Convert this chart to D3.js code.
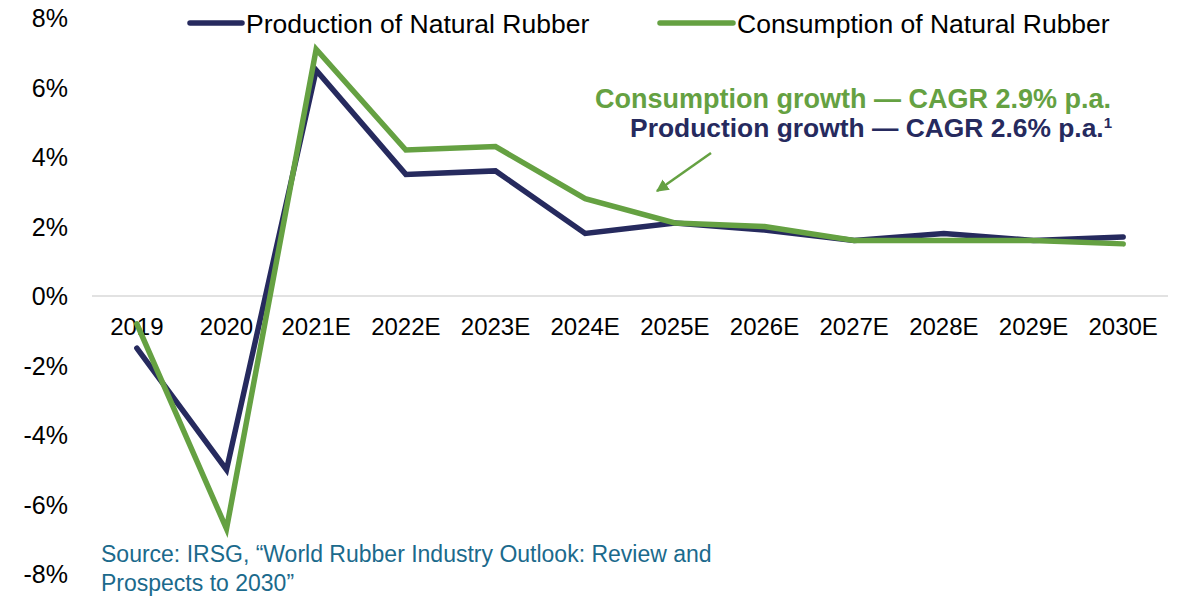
<!DOCTYPE html>
<html>
<head>
<meta charset="utf-8">
<script src="https://cdn.jsdelivr.net/npm/d3@7"></script>
<style>
  body { margin: 0; background: #fff; }
  svg { font-family: "Liberation Sans", Arial, sans-serif; }
</style>
</head>
<body>
<svg id="chart" width="1184" height="596"></svg>
<script>
// data
const years = ['2019', '2020', '2021E', '2022E', '2023E', '2024E', '2025E', '2026E', '2027E', '2028E', '2029E', '2030E'];
const production = [-1.5, -5.0, 6.5, 3.5, 3.6, 1.8, 2.1, 1.9, 1.6, 1.8, 1.6, 1.7];
const consumption = [-0.8, -6.7, 7.1, 4.2, 4.3, 2.8, 2.1, 2.0, 1.6, 1.6, 1.6, 1.5];
const yTicks = [8, 6, 4, 2, 0, -2, -4, -6, -8];

const navy = '#262a5e';
const green = '#65a142';

const svg = d3.select('#chart');

const x = d3.scalePoint().domain(years).range([92, 1168]).padding(0.5);
const y = d3.scaleLinear().domain([-8, 8]).range([574, 18]);

// zero line
svg.append('line')
  .attr('x1', 92).attr('x2', 1168)
  .attr('y1', y(0)).attr('y2', y(0))
  .attr('stroke', '#d9d9d9').attr('stroke-width', 1.5);

// y tick labels
svg.append('g').selectAll('text')
  .data(yTicks)
  .enter().append('text')
  .attr('x', 68)
  .attr('y', d => y(d))
  .attr('dy', '0.36em')
  .attr('text-anchor', 'end')
  .attr('font-size', 25)
  .attr('fill', '#000')
  .text(d => d + '%');

// x tick labels
svg.append('g').selectAll('text')
  .data(years)
  .enter().append('text')
  .attr('x', d => x(d))
  .attr('y', y(0) + 30)
  .attr('dy', '0.36em')
  .attr('text-anchor', 'middle')
  .attr('font-size', 24)
  .attr('fill', '#000')
  .text(d => d);

// lines
const line = d3.line()
  .x((d, i) => x(years[i]))
  .y(d => y(d));

svg.append('path')
  .datum(production)
  .attr('d', line)
  .attr('fill', 'none')
  .attr('stroke', navy)
  .attr('stroke-width', 5.5)
  .attr('stroke-linecap', 'round')
  .attr('stroke-linejoin', 'miter');

svg.append('path')
  .datum(consumption)
  .attr('d', line)
  .attr('fill', 'none')
  .attr('stroke', green)
  .attr('stroke-width', 5.5)
  .attr('stroke-linecap', 'round')
  .attr('stroke-linejoin', 'miter');

// legend
const legend = [
  {label: 'Production of Natural Rubber', color: navy, x1: 190, x2: 242},
  {label: 'Consumption of Natural Rubber', color: green, x1: 660, x2: 733}
];
const lg = svg.append('g').selectAll('g').data(legend).enter().append('g');
lg.append('line')
  .attr('x1', d => d.x1).attr('x2', d => d.x2)
  .attr('y1', 23).attr('y2', 23)
  .attr('stroke', d => d.color)
  .attr('stroke-width', 5.5)
  .attr('stroke-linecap', 'round');
lg.append('text')
  .attr('x', d => d.x2 + 4)
  .attr('y', 23)
  .attr('dy', '0.36em')
  .attr('font-size', 26.5)
  .attr('fill', '#000')
  .text(d => d.label);

// CAGR annotation
svg.append('text')
  .attr('x', 1111).attr('y', 98)
  .attr('dy', '0.36em')
  .attr('text-anchor', 'end')
  .attr('font-size', 27).attr('font-weight', 'bold')
  .attr('fill', green)
  .text('Consumption growth — CAGR 2.9% p.a.');

const prodText = svg.append('text')
  .attr('x', 1112).attr('y', 127)
  .attr('dy', '0.36em')
  .attr('text-anchor', 'end')
  .attr('font-size', 26.4).attr('font-weight', 'bold')
  .attr('fill', navy);
prodText.append('tspan').text('Production growth — CAGR 2.6% p.a.');
prodText.append('tspan')
  .attr('font-size', 15).attr('dy', -9)
  .text('1');

// arrow
svg.append('defs').append('marker')
  .attr('id', 'arrow')
  .attr('viewBox', '0 0 10 10')
  .attr('refX', 9).attr('refY', 5)
  .attr('markerWidth', 5).attr('markerHeight', 5)
  .attr('orient', 'auto')
  .append('path')
  .attr('d', 'M0,0 L10,5 L0,10 Z')
  .attr('fill', green);

svg.append('line')
  .attr('x1', 711).attr('y1', 153)
  .attr('x2', 657).attr('y2', 191)
  .attr('stroke', green)
  .attr('stroke-width', 2.5)
  .attr('marker-end', 'url(#arrow)');

// source
const src = svg.append('text')
  .attr('x', 101).attr('y', 554)
  .attr('dy', '0.36em')
  .attr('font-size', 23)
  .attr('fill', '#1b6a8c');
src.append('tspan').attr('x', 101).text('Source: IRSG, “World Rubber Industry Outlook: Review and');
src.append('tspan').attr('x', 101).attr('dy', 29).text('Prospects to 2030”');
</script>
</body>
</html>
